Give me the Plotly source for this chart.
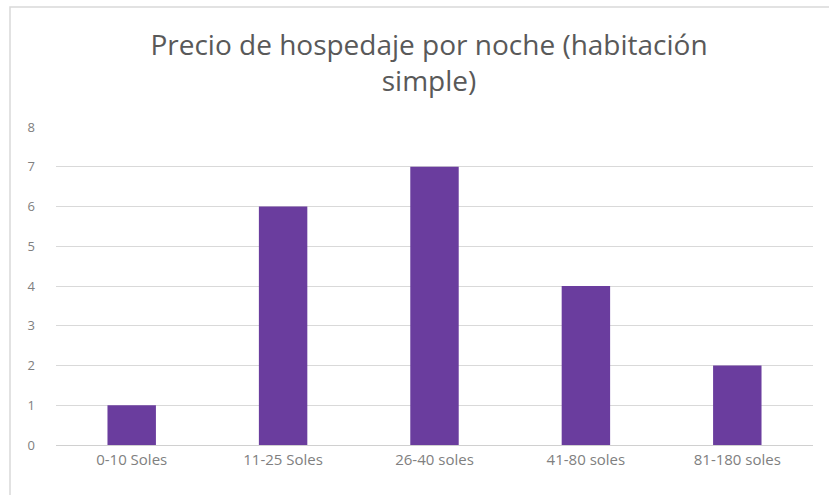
import plotly.graph_objects as go

categories = ["0-10 Soles", "11-25 Soles", "26-40 soles", "41-80 soles", "81-180 soles"]
values = [1, 6, 7, 4, 2]
y_ticks = [0, 1, 2, 3, 4, 5, 6, 7, 8]

W, H = 829, 495
ml, mr, mt, mb = 56, 16, 127, 50
pw, ph = W - ml - mr, H - mt - mb

fig = go.Figure(go.Bar(x=categories, y=values, marker_color="#6a3d9e", marker_line_width=0))

def px_to_paper_x(px):
    return (px - ml) / pw

def px_to_paper_y(py):
    return 1 - (py - mt) / ph

fig.add_shape(type="rect", xref="paper", yref="paper",
              x0=px_to_paper_x(10), x1=px_to_paper_x(840),
              y0=px_to_paper_y(510), y1=px_to_paper_y(7),
              line=dict(color="#d9d9d9", width=1.5), fillcolor="rgba(0,0,0,0)", layer="below")

fig.update_layout(
    width=W, height=H,
    margin=dict(l=ml, r=mr, t=mt, b=mb),
    paper_bgcolor="white", plot_bgcolor="white",
    bargap=0.68,
    showlegend=False,
    title=dict(text="Precio de hospedaje por noche (habitación<br>simple)",
               x=429 / W, xanchor="center", y=1 - 55 / H, yanchor="middle",
               font=dict(family="Open Sans, sans-serif", size=28, color="#595959")),
    font=dict(family="Open Sans, sans-serif", color="#7f7f7f", size=13),
    xaxis=dict(showgrid=False, showline=False, ticks="", ticklabelstandoff=4,
               tickfont=dict(size=15, color="#808080")),
    yaxis=dict(range=[0, 8], tickvals=y_ticks, showgrid=True, gridcolor="#d9d9d9", gridwidth=1,
               zeroline=True, zerolinecolor="#d0d0d0", zerolinewidth=1,
               ticks="", ticklabelstandoff=20, tickfont=dict(size=13, color="#808080")),
)

fig.write_html("out.html", config={"displayModeBar": False},
               post_script="document.body.style.margin='0';")
